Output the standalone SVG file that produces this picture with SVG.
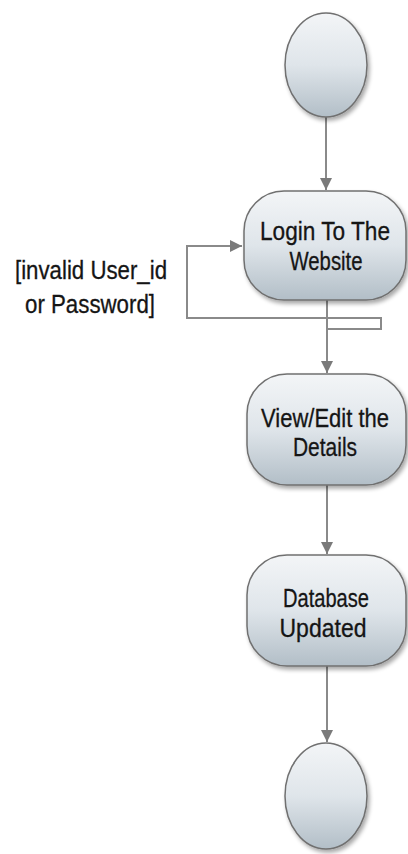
<svg xmlns="http://www.w3.org/2000/svg" width="408" height="854" viewBox="0 0 408 854">
<style>
.node{fill:url(#g);stroke:#707070;stroke-width:1.5;filter:url(#sh)}
.lbl{font-family:"Liberation Sans",Arial,sans-serif;font-size:25px;fill:#151515;stroke:#151515;stroke-width:0.3;text-anchor:middle}
.edge{fill:none;stroke:#8a8a8a;stroke-width:2}
</style>
<defs>
<linearGradient id="g" x1="0" y1="0" x2="0" y2="1">
<stop offset="0" stop-color="#f3f5f7"/>
<stop offset="0.5" stop-color="#dfe5ea"/>
<stop offset="1" stop-color="#b2bec7"/>
</linearGradient>
<filter id="sh" x="-10%" y="-10%" width="125%" height="125%">
<feGaussianBlur in="SourceAlpha" stdDeviation="2"/>
<feOffset dx="2" dy="3"/>
<feComponentTransfer><feFuncA type="linear" slope="0.35"/></feComponentTransfer>
<feMerge><feMergeNode/><feMergeNode in="SourceGraphic"/></feMerge>
</filter>
<marker id="ah" viewBox="0 0 10 10" refX="10" refY="5" markerWidth="6" markerHeight="6" markerUnits="strokeWidth" orient="auto">
<path d="M0,0 L10,5 L0,10 z" fill="#7a7a7a"/>
</marker>
</defs>
<g id="connectors">
<line class="edge" x1="326" y1="117" x2="326" y2="190" marker-end="url(#ah)"/>
<line class="edge" x1="327" y1="300" x2="327" y2="373" marker-end="url(#ah)"/>
<line class="edge" x1="327" y1="485" x2="327" y2="554" marker-end="url(#ah)"/>
<line class="edge" x1="327" y1="666" x2="327" y2="742" marker-end="url(#ah)"/>
<polyline class="edge" points="327,329 381,329 381,318 187,318 187,246 242,246" marker-end="url(#ah)"/>
</g>
<g id="start"><ellipse class="node" cx="326" cy="65" rx="41" ry="52"/></g>
<g id="login">
<rect class="node" x="244" y="191" width="162" height="109" rx="40" ry="40"/>
<text class="lbl" x="325" y="240" textLength="130" lengthAdjust="spacingAndGlyphs">Login To The</text>
<text class="lbl" x="326" y="270" textLength="73" lengthAdjust="spacingAndGlyphs">Website</text>
</g>
<g id="guard">
<text class="lbl" x="91" y="279" textLength="152" lengthAdjust="spacingAndGlyphs">[invalid User_id</text>
<text class="lbl" x="90" y="313" textLength="130" lengthAdjust="spacingAndGlyphs">or Password]</text>
</g>
<g id="view">
<rect class="node" x="247" y="374" width="159" height="111" rx="40" ry="40"/>
<text class="lbl" x="325" y="427" textLength="128" lengthAdjust="spacingAndGlyphs">View/Edit the</text>
<text class="lbl" x="325" y="456" textLength="64" lengthAdjust="spacingAndGlyphs">Details</text>
</g>
<g id="db">
<rect class="node" x="247" y="555" width="159" height="111" rx="40" ry="40"/>
<text class="lbl" x="326" y="607" textLength="86" lengthAdjust="spacingAndGlyphs">Database</text>
<text class="lbl" x="323" y="637" textLength="87" lengthAdjust="spacingAndGlyphs">Updated</text>
</g>
<g id="end"><ellipse class="node" cx="326" cy="796" rx="41" ry="53"/></g>
</svg>
